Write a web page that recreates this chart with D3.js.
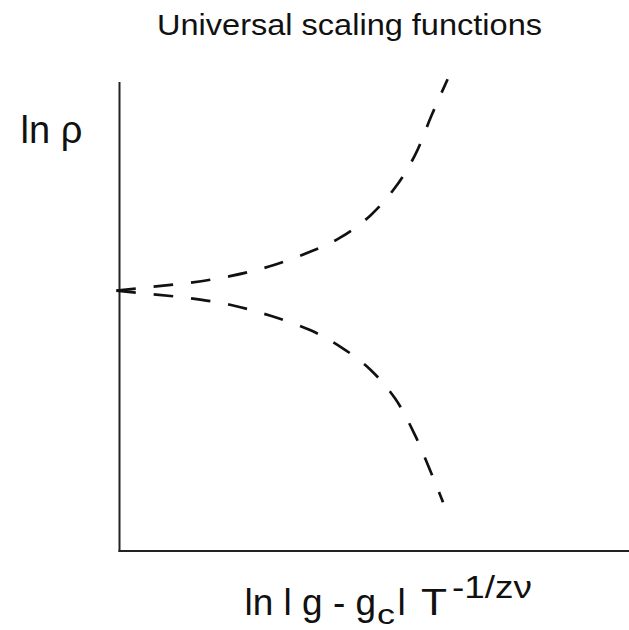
<!DOCTYPE html>
<html><head><meta charset="utf-8">
<script src="https://cdn.jsdelivr.net/npm/d3@7"></script>
<style>
html,body{margin:0;padding:0;background:#fff;}
svg{display:block;}
text{font-family:"Liberation Sans",Arial,Helvetica,sans-serif;fill:#111;}
</style></head>
<body>
<script>
// Data (arbitrary units)
const upperX = [-0.06, 0.60, 1.38, 2.17, 2.95, 3.74, 4.33, 4.92, 5.41, 5.80, 6.13, 6.44];
const upperY = [5.55, 5.63, 5.72, 5.86, 6.07, 6.38, 6.68, 7.15, 7.75, 8.44, 9.30, 10.06];
const lowerX = [-0.06, 0.60, 1.38, 2.17, 2.95, 3.74, 4.33, 4.92, 5.41, 5.80, 6.13, 6.35];
const lowerY = [5.55, 5.48, 5.39, 5.25, 5.02, 4.71, 4.36, 3.87, 3.25, 2.47, 1.63, 1.04];
const titleText = "Universal scaling functions";
const yLabel = "ln \u03C1";

const W = 629, H = 630;
const svg = d3.select("body").append("svg").attr("width", W).attr("height", H);

const x = d3.scaleLinear().domain([0, 10]).range([119.5, 629]);
const y = d3.scaleLinear().domain([0, 10]).range([551, 82]);

// axes lines
svg.append("line").attr("x1", x(0)).attr("x2", x(0)).attr("y1", y(10)).attr("y2", y(0) + 1)
  .attr("stroke", "#222").attr("stroke-width", 2);
svg.append("line").attr("x1", x(0) - 1).attr("x2", x(10)).attr("y1", y(0)).attr("y2", y(0))
  .attr("stroke", "#222").attr("stroke-width", 2);

const line = d3.line().x(d => x(d[0])).y(d => y(d[1])).curve(d3.curveCatmullRom.alpha(0.5));
const series = [d3.zip(upperX, upperY), d3.zip(lowerX, lowerY)];
svg.selectAll("path.curve").data(series).join("path")
  .attr("class", "curve")
  .attr("d", line)
  .attr("fill", "none")
  .attr("stroke", "#111")
  .attr("stroke-width", 2.7)
  .attr("stroke-dasharray", "19.5,18");

// title
svg.append("text").attr("x", 349.5).attr("y", 35).attr("text-anchor", "middle")
  .attr("font-size", 30).attr("textLength", 385).attr("lengthAdjust", "spacingAndGlyphs")
  .text(titleText);

// y label
svg.append("text").attr("x", 20.5).attr("y", 143).attr("font-size", 38).text(yLabel);

// x label
const xg = svg.append("g");
xg.append("text").attr("x", 244.5).attr("y", 615).attr("font-size", 37).text("ln l g - g");
xg.append("text").attr("x", 377).attr("y", 624).attr("font-size", 28)
  .attr("textLength", 18).attr("lengthAdjust", "spacingAndGlyphs").text("c");
xg.append("text").attr("x", 397.5).attr("y", 615).attr("font-size", 37).text("l");
xg.append("text").attr("x", 421).attr("y", 615).attr("font-size", 37)
  .attr("textLength", 26).attr("lengthAdjust", "spacingAndGlyphs").text("T");
xg.append("text").attr("x", 452).attr("y", 598).attr("font-size", 31)
  .attr("textLength", 80).attr("lengthAdjust", "spacingAndGlyphs").text("-1/z\u03BD");
</script>
</body></html>
